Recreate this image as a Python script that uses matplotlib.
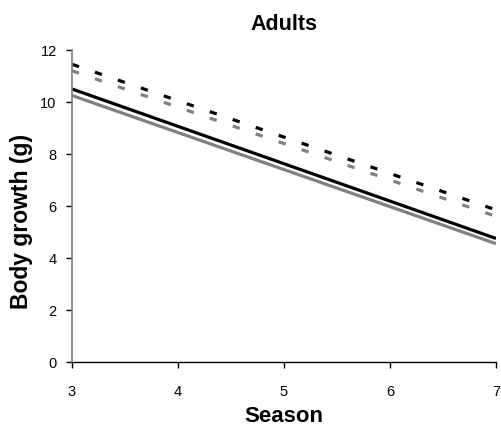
import numpy as np
import matplotlib.pyplot as plt

plt.rcParams['font.family'] = ['Liberation Sans', 'DejaVu Sans']

season = [3, 7]
solid_black = [10.5, 4.75]
solid_grey = [10.25, 4.55]
dash_black = [11.45, 5.85]
dash_grey = [11.2, 5.6]

fig = plt.figure(figsize=(5.02, 4.27), dpi=100)
ax = fig.add_axes([0.1434, 0.150, 0.8446, 0.7306])

lw = 2.3
ax.plot(season, solid_grey, color='#808080', lw=lw, solid_capstyle='butt')
ax.plot(season, solid_black, color='black', lw=lw, solid_capstyle='butt')
ax.plot(season, dash_grey, color='#808080', lw=lw, dashes=(2.3, 5.3), dash_capstyle='butt')
ax.plot(season, dash_black, color='black', lw=lw, dashes=(2.3, 5.3), dash_capstyle='butt')

ax.set_xlim(3, 7)
ax.set_ylim(0, 12)
ax.set_xticks([3, 4, 5, 6, 7])
ax.set_yticks(np.arange(0, 13, 2))
ax.spines['top'].set_visible(False)
ax.spines['right'].set_visible(False)
ax.spines['left'].set_color('#808080')
ax.spines['left'].set_linewidth(1.2)
ax.spines['bottom'].set_linewidth(1.0)
ax.tick_params(axis='both', direction='out', length=4, width=1, labelsize=10.5)
ax.tick_params(axis='x', pad=12)
ax.tick_params(axis='y', pad=7)
ax.set_title('Adults', fontsize=15.5, fontweight='bold', pad=15)
ax.set_xlabel('Season', fontsize=16, fontweight='bold', labelpad=5)
ax.set_ylabel('Body growth (g)', fontsize=16.5, fontweight='bold')
ax.yaxis.set_label_coords(-0.092, 0.455)

fig.savefig('out.png', dpi=100)
